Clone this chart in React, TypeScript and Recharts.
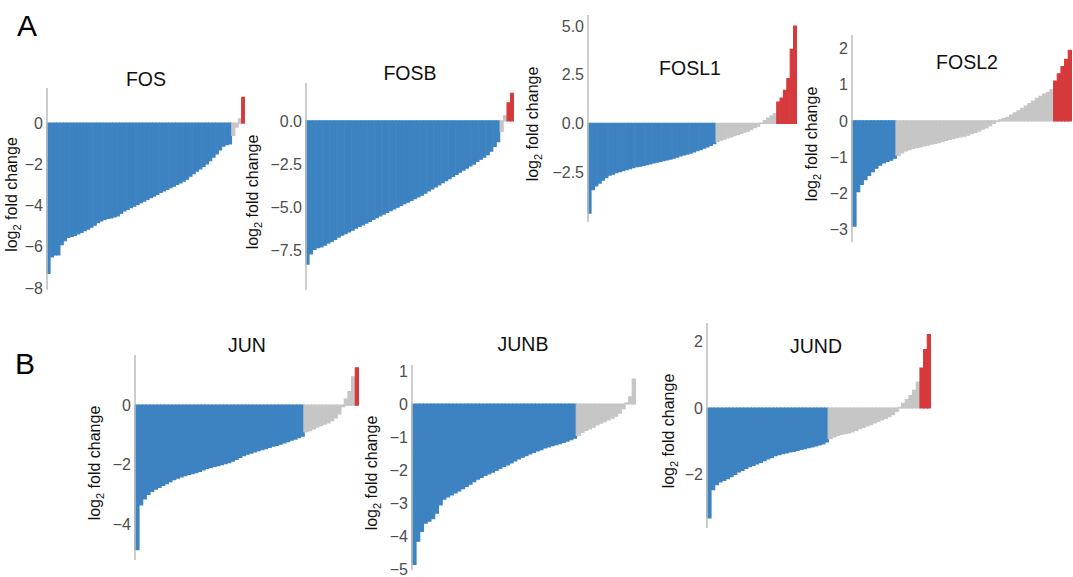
import React from 'react';
import { BarChart, Bar, XAxis, YAxis, Cell } from 'recharts';

// ---- data (sorted log2 fold changes) ----
const fosValues = [
  -7.3, -6.5, -6.4, -6.4, -5.9, -5.7, -5.55, -5.5, -5.45, -5.38,
  -5.3, -5.22, -5.15, -5.05, -4.95, -4.83, -4.75, -4.68, -4.63, -4.6,
  -4.55, -4.5, -4.38, -4.26, -4.19, -4.1, -4.03, -3.95, -3.86, -3.79,
  -3.7, -3.62, -3.55, -3.46, -3.37, -3.29, -3.22, -3.14, -3.06, -2.98,
  -2.9, -2.82, -2.72, -2.58, -2.45, -2.33, -2.22, -2.1, -1.98, -1.83,
  -1.66, -1.5, -1.3, -1.12, -1.05, -1.01, -0.6, -0.2, 0.2, 1.25,
];
const fosbValues = [
  -8.3, -7.7, -7.45, -7.35, -7.3, -7.2, -7.08, -6.98, -6.87, -6.73,
  -6.62, -6.53, -6.43, -6.33, -6.22, -6.12, -6.02, -5.92, -5.82, -5.71,
  -5.61, -5.5, -5.4, -5.3, -5.2, -5.1, -5.0, -4.9, -4.8, -4.7,
  -4.6, -4.5, -4.4, -4.3, -4.18, -4.06, -3.94, -3.82, -3.7, -3.58,
  -3.46, -3.34, -3.22, -3.1, -2.97, -2.85, -2.73, -2.61, -2.5, -2.35,
  -2.22, -2.1, -1.95, -1.75, -1.48, -1.2, -0.6, 0.3, 1.05, 1.6,
];
const fosl1Values = [
  -4.6, -3.4, -3.2, -3.06, -2.91, -2.78, -2.65, -2.6, -2.53, -2.47,
  -2.42, -2.37, -2.32, -2.27, -2.22, -2.19, -2.15, -2.11, -2.07, -2.03,
  -1.99, -1.95, -1.91, -1.87, -1.83, -1.78, -1.73, -1.67, -1.62, -1.57,
  -1.52, -1.46, -1.4, -1.34, -1.27, -1.2, -1.12, -1.04, -0.92, -0.86,
  -0.8, -0.74, -0.69, -0.63, -0.57, -0.51, -0.45, -0.4, -0.32, -0.22,
  -0.15, 0.02, 0.15, 0.28, 0.38, 0.5, 1.1, 1.3, 1.7, 2.3, 3.8, 5.0,
];
const fosl2Values = [
  -2.9, -1.95, -1.75, -1.62, -1.5, -1.4, -1.3, -1.22, -1.16, -1.12,
  -1.08, -1.03, -0.95, -0.88, -0.83, -0.79, -0.76, -0.74, -0.72, -0.69,
  -0.67, -0.64, -0.62, -0.6, -0.57, -0.54, -0.51, -0.49, -0.46, -0.44,
  -0.42, -0.39, -0.35, -0.32, -0.28, -0.23, -0.19, -0.13, -0.07, -0.02,
  0.03, 0.07, 0.1, 0.16, 0.22, 0.28, 0.35, 0.41, 0.48, 0.55,
  0.62, 0.68, 0.74, 0.79, 0.86, 1.1, 1.3, 1.5, 1.7, 1.95,
];
const junValues = [
  -4.85, -3.35, -3.15, -3.0, -2.9, -2.82, -2.76, -2.7, -2.64, -2.57,
  -2.5, -2.45, -2.41, -2.37, -2.33, -2.3, -2.27, -2.23, -2.18, -2.13,
  -2.09, -2.06, -2.03, -2.0, -1.97, -1.93, -1.88, -1.82, -1.76, -1.7,
  -1.65, -1.61, -1.57, -1.53, -1.5, -1.46, -1.42, -1.38, -1.35, -1.31,
  -1.27, -1.23, -1.18, -1.14, -1.09, -1.04, -0.9, -0.86, -0.8, -0.74,
  -0.69, -0.64, -0.6, -0.52, -0.43, -0.3, -0.05, 0.2, 0.45, 0.95, 1.25,
];
const junbValues = [
  -4.85, -4.15, -3.85, -3.6, -3.54, -3.47, -3.3, -3.05, -2.88, -2.81,
  -2.75, -2.69, -2.63, -2.56, -2.49, -2.42, -2.35, -2.27, -2.22, -2.16,
  -2.11, -2.06, -2.01, -1.95, -1.89, -1.84, -1.78, -1.72, -1.66, -1.61,
  -1.56, -1.51, -1.46, -1.42, -1.38, -1.33, -1.3, -1.26, -1.23, -1.2,
  -1.16, -1.12, -1.08, -1.03, -0.95, -0.86, -0.8, -0.75, -0.7, -0.63,
  -0.58, -0.53, -0.48, -0.43, -0.37, -0.28, -0.15, 0.03, 0.22, 0.75,
];
const jundValues = [
  -3.3, -2.45, -2.3, -2.22, -2.17, -2.12, -2.06, -1.99, -1.92, -1.87,
  -1.81, -1.76, -1.72, -1.68, -1.63, -1.58, -1.53, -1.48, -1.43, -1.4,
  -1.37, -1.35, -1.32, -1.3, -1.27, -1.24, -1.22, -1.19, -1.17, -1.14,
  -1.11, -1.08, -1.02, -0.92, -0.87, -0.82, -0.79, -0.77, -0.75, -0.72,
  -0.67, -0.62, -0.58, -0.54, -0.5, -0.45, -0.4, -0.36, -0.31, -0.26,
  -0.2, -0.1, 0.02, 0.14, 0.25, 0.37, 0.53, 0.78, 1.2, 1.75, 2.2,
];

const fosTicks = [0, -2, -4, -6, -8];
const fosbTicks = [0, -2.5, -5, -7.5];
const fosl1Ticks = [5, 2.5, 0, -2.5];
const fosl2Ticks = [2, 1, 0, -1, -2, -3];
const junTicks = [0, -2, -4];
const junbTicks = [1, 0, -1, -2, -3, -4, -5];
const jundTicks = [2, 0, -2];

const geneNames = ['FOS', 'FOSB', 'FOSL1', 'FOSL2', 'JUN', 'JUNB', 'JUND'];
const panelLetters = ['A', 'B'];

// ---- styling / layout ----
const BLUE = '#3d83c2';
const GRAY = '#c6c6c6';
const RED = '#d63a3d';
const FONT = '"Liberation Sans", Arial, Helvetica, sans-serif';
const YW = 72;
const MT = 10;
const MB = 12;

const colorOf = (v: number) => (v < -1 ? BLUE : v > 1 ? RED : GRAY);

const fmt = (t: number, dec: number) =>
  (t < 0 ? '\u2212' : '') + Math.abs(t).toFixed(dec);

function AxisTitle(props: any) {
  const vb = props.viewBox || { x: 0, y: 0, width: YW, height: 200 };
  const cx = vb.x + vb.width - props.dist;
  const cy = vb.y + vb.height / 2;
  return (
    <text
      x={cx}
      y={cy + 5.5}
      transform={`rotate(-90, ${cx}, ${cy + 5.5})`}
      textAnchor="middle"
      fontSize={16}
      fill="#111"
      fontFamily={FONT}
    >
      log
      <tspan dy={4} fontSize={11}>2</tspan>
      <tspan dy={-4}>{' fold change'}</tspan>
    </text>
  );
}

type PanelProps = {
  values: number[];
  domain: [number, number];
  ticks: number[];
  dec: number;
  axisX: number;
  right: number;
  top: number;
  bottom: number;
  dist: number;
};

function Panel({ values, domain, ticks, dec, axisX, right, top, bottom, dist }: PanelProps) {
  const data = values.map((v, i) => ({ i, v }));
  const width = YW + (right - axisX);
  const height = bottom - top + MT + MB;
  return (
    <div style={{ position: 'absolute', left: axisX - YW, top: top - MT }}>
      <BarChart
        width={width}
        height={height}
        data={data}
        margin={{ top: MT, right: 0, bottom: MB, left: 0 }}
        barCategoryGap={0}
        barGap={0}
      >
        <XAxis dataKey="i" hide />
        <YAxis
          type="number"
          width={YW}
          domain={domain}
          ticks={ticks}
          allowDataOverflow
          interval={0}
          tickLine={false}
          tickSize={0}
          tickMargin={4}
          axisLine={{ stroke: '#bdbdbd', strokeWidth: 1.5 }}
          tick={{ fill: '#4d4d4d', fontSize: 16, fontFamily: FONT }}
          tickFormatter={(t: number) => fmt(t, dec)}
          label={<AxisTitle dist={dist} />}
        />
        <Bar dataKey="v" isAnimationActive={false}>
          {data.map((d) => (
            <Cell key={d.i} fill={colorOf(d.v)} stroke={colorOf(d.v)} strokeWidth={1.2} />
          ))}
        </Bar>
      </BarChart>
    </div>
  );
}

function Title({ text, cx, cy }: { text: string; cx: number; cy: number }) {
  return (
    <div
      style={{
        position: 'absolute',
        left: cx - 60,
        top: cy - 12,
        width: 120,
        height: 24,
        lineHeight: '24px',
        textAlign: 'center',
        fontSize: 19.5,
        color: '#111',
        fontFamily: FONT,
      }}
    >
      {text}
    </div>
  );
}

function Letter({ text, left, top }: { text: string; left: number; top: number }) {
  return (
    <div
      style={{
        position: 'absolute',
        left,
        top,
        fontSize: 30,
        lineHeight: '30px',
        color: '#000',
        fontFamily: FONT,
      }}
    >
      {text}
    </div>
  );
}

export default function App() {
  return (
    <div
      style={{
        position: 'absolute',
        left: 0,
        top: 0,
        width: 1073,
        height: 577,
        overflow: 'hidden',
        background: '#fff',
        fontFamily: FONT,
      }}
    >
      <Letter text={panelLetters[0]} left={17} top={11} />
      <Letter text={panelLetters[1]} left={15} top={349} />

      <Panel values={fosValues} domain={[-8.1, 1.7]} ticks={fosTicks} dec={0} axisX={47} right={245} top={88} bottom={290} dist={30} />
      <Panel values={fosbValues} domain={[-9.8, 2.2]} ticks={fosbTicks} dec={1} axisX={306} right={514} top={83} bottom={290} dist={48} />
      <Panel values={fosl1Values} domain={[-5.06, 5.57]} ticks={fosl1Ticks} dec={1} axisX={588} right={797} top={15} bottom={222} dist={50} />
      <Panel values={fosl2Values} domain={[-3.34, 2.37]} ticks={fosl2Ticks} dec={0} axisX={852} right={1072} top={35} bottom={242} dist={35} />
      <Panel values={junValues} domain={[-5.2, 1.68]} ticks={junTicks} dec={0} axisX={135} right={359} top={355} bottom={560} dist={35} />
      <Panel values={junbValues} domain={[-5.02, 1.18]} ticks={junbTicks} dec={0} axisX={412} right={636} top={365} bottom={570} dist={35} />
      <Panel values={jundValues} domain={[-3.6, 2.55]} ticks={jundTicks} dec={0} axisX={707} right={931} top={323} bottom={528} dist={33} />

      <Title text={geneNames[0]} cx={146} cy={79} />
      <Title text={geneNames[1]} cx={410} cy={73} />
      <Title text={geneNames[2]} cx={690} cy={68} />
      <Title text={geneNames[3]} cx={967} cy={62} />
      <Title text={geneNames[4]} cx={247} cy={345} />
      <Title text={geneNames[5]} cx={523} cy={344} />
      <Title text={geneNames[6]} cx={816} cy={346} />
    </div>
  );
}
